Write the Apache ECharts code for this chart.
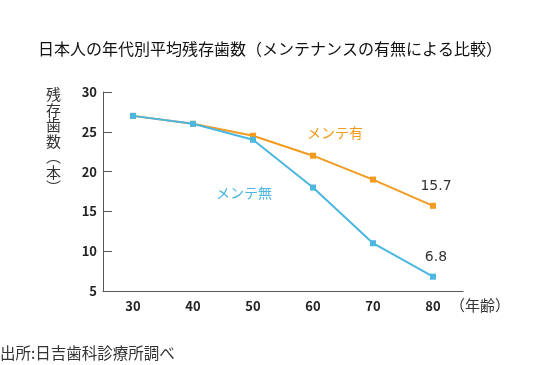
<!DOCTYPE html>
<html><head><meta charset="utf-8">
<script src="https://cdn.jsdelivr.net/npm/echarts@6/dist/echarts.min.js"></script>
<style>html,body{margin:0;padding:0;background:#fff}#c{width:540px;height:365px}</style>
</head><body><div id="c"></div>
<script>
const categories = ['30','40','50','60','70','80'];
const mainteYes = [27, 26, 24.5, 22, 19, 15.7];
const mainteNo = [27, 26, 24, 18, 11, 6.8];
const yTicks = [5, 10, 15, 20, 25, 30];

const FONT = '"Noto Sans CJK JP","Noto Sans",sans-serif';
const ORANGE = '#F39B1E';
const BLUE = '#4BB6E0';

function withLastLabel(arr){
  return arr.map((v,i)=> i===arr.length-1 ? {value:v, label:{show:true, position:'top', distance:9, offset:[3,0], formatter:String(v), color:'#333', fontSize:14, fontFamily:'"DejaVu Sans",sans-serif'}} : v);
}

const chart = echarts.init(document.getElementById('c'), null, {renderer:'canvas'});
chart.setOption({
  animation:false,
  textStyle:{fontFamily:FONT},
  title:{text:'日本人の年代別平均残存歯数（メンテナンスの有無による比較）', left:'center', top:36,
    textStyle:{fontSize:16, fontWeight:'normal', color:'#111', fontFamily:FONT}},
  grid:{left:103, right:77, top:92, bottom:74, containLabel:false, outerBoundsMode:'none'},
  xAxis:{type:'category', data:categories, boundaryGap:true,
    axisLine:{lineStyle:{color:'#555', width:1}},
    axisTick:{inside:true, length:6, lineStyle:{color:'#555'}},
    axisLabel:{color:'#222', fontSize:13, fontWeight:'bold', margin:9, fontFamily:FONT}},
  yAxis:{type:'value', min:yTicks[0], max:yTicks[yTicks.length-1], interval:5,
    axisLine:{show:true, lineStyle:{color:'#555', width:1}},
    axisTick:{show:true, inside:true, length:9, lineStyle:{color:'#555'}},
    splitLine:{show:false},
    axisLabel:{color:'#222', fontSize:13, fontWeight:'bold', margin:6, fontFamily:FONT}},
  series:[
    {name:'メンテ有', type:'line', data:withLastLabel(mainteYes), symbol:'rect', symbolSize:6,
     lineStyle:{color:ORANGE, width:2}, itemStyle:{color:ORANGE}, z:2},
    {name:'メンテ無', type:'line', data:withLastLabel(mainteNo), symbol:'rect', symbolSize:6,
     lineStyle:{color:BLUE, width:2}, itemStyle:{color:BLUE}, z:3}
  ],
  graphic:[
    {type:'text', left:46, top:87, style:{text:'残\n存\n歯\n数\n︵\n本\n︶', fill:'#333', font:'15px '+FONT, lineHeight:15.5}},
    {type:'text', left:307, top:126, style:{text:'メンテ有', fill:ORANGE, font:'14px '+FONT}},
    {type:'text', left:216, top:186, style:{text:'メンテ無', fill:BLUE, font:'14px '+FONT}},
    {type:'text', left:450, top:298, style:{text:'（年齢）', fill:'#333', font:'15px '+FONT}},
    {type:'text', left:0, top:345, style:{text:'出所:日吉歯科診療所調べ', fill:'#333', font:'15.5px '+FONT}}
  ]
});
</script></body></html>
